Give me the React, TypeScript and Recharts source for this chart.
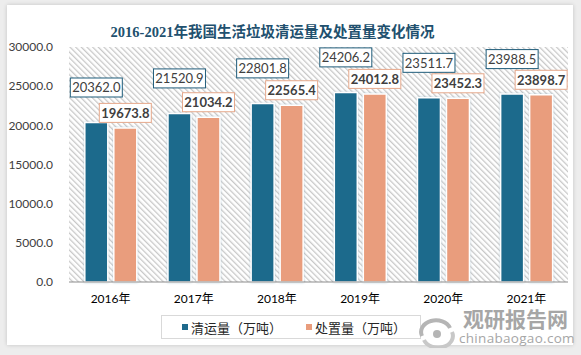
import React from "react";
import { Bar, BarChart, LabelList, XAxis, YAxis } from "recharts";

const years = ["2016年", "2017年", "2018年", "2019年", "2020年", "2021年"];
const collected = [20362.0, 21520.9, 22801.8, 24206.2, 23511.7, 23988.5];
const disposed = [19673.8, 21034.2, 22565.4, 24012.8, 23452.3, 23898.7];
const yTicks = [0, 5000, 10000, 15000, 20000, 25000, 30000];

const DARK = "#1F6A8C";
const SALMON = "#E99D7D";

const data = years.map((year, i) => ({ year, collected: collected[i], disposed: disposed[i] }));

// boxed value label drawn above the bar, like the Excel callouts
function boxLabel(border: string, lift: number, bold: boolean) {
  return (props: any) => {
    const { x, y, width, value } = props;
    const cx = Number(x) + Number(width) / 2;
    const cy = Number(y) - lift;
    const w = 52;
    const h = 19;
    return (
      <g>
        <rect x={cx - w / 2} y={cy - h / 2} width={w} height={h} fill="#fff" stroke={border} strokeWidth={1} />
        <text
          x={cx}
          y={cy}
          textAnchor="middle"
          dominantBaseline="central"
          fontSize={13}
          fontWeight={bold ? 700 : 400}
          fill="#404040"
          fontFamily="Lato, 'Open Sans', sans-serif"
        >
          {Number(value).toFixed(1)}
        </text>
      </g>
    );
  };
}

// diagonal hatch behind the plot area, drawn from the chart's own offset
function Hatch(props: any) {
  const { offset } = props;
  if (!offset) return null;
  const lines = [];
  const { left, top, width, height } = offset;
  for (let d = -height; d < width; d += 4) {
    lines.push(<line key={d} x1={left + d} y1={top} x2={left + d + height} y2={top + height} />);
  }
  return (
    <g>
      <clipPath id="hatchClip">
        <rect x={left} y={top} width={width} height={height} />
      </clipPath>
      <g clipPath="url(#hatchClip)" stroke="#cccccc" strokeWidth={1}>
        {lines}
      </g>
    </g>
  );
}

export default function App() {
  return (
    <div style={{ position: "fixed", left: 0, top: 0, width: 581, height: 355, background: "#ededed", overflow: "hidden" }}>
      <div
        style={{
          position: "absolute",
          left: 7,
          top: 5,
          width: 566,
          height: 340,
          background: "#fff",
          boxShadow: "0 0 4px rgba(0,0,0,0.18)",
        }}
      />
      <svg style={{ position: "absolute", left: 69, top: 47 }} width={499} height={235}>
        <defs>
          <pattern id="hatch" width="4" height="4" patternUnits="userSpaceOnUse" patternTransform="rotate(-45)">
            <rect x="0" y="0" width="1.3" height="4" fill="#c8c8c8" />
          </pattern>
        </defs>
        <rect x="0" y="0" width="499" height="235" fill="url(#hatch)" />
      </svg>
      <div
        style={{
          position: "absolute",
          left: 0,
          top: 20,
          width: 545,
          textAlign: "center",
          fontFamily: "'Liberation Serif', 'Noto Sans CJK SC', serif",
          fontWeight: 700,
          fontSize: 14.5,
          lineHeight: "24px",
          color: "#21506E",
        }}
      >
        2016-2021年我国生活垃圾清运量及处置量变化情况
      </div>
      <div style={{ position: "absolute", left: 0, top: 0 }}>
        <BarChart
          width={581}
          height={355}
          data={data}
          margin={{ top: 47, right: 13, bottom: 43, left: 0 }}
          barCategoryGap="19%"
          barGap={6}
        >
          <defs>
            <filter id="barShadow" x="-30%" y="-10%" width="160%" height="120%">
              <feDropShadow dx="0" dy="0" stdDeviation="1.2" floodColor="#8fb3c7" floodOpacity="0.6" />
            </filter>
          </defs>
          <XAxis
            dataKey="year"
            axisLine={{ stroke: "#8c8c8c" }}
            tickLine={false}
            tickMargin={6}
            tick={{ fontSize: 12, fill: "#000", fontFamily: "Lato, 'Noto Sans CJK SC', sans-serif" }}
          />
          <YAxis
            domain={[0, 30000]}
            ticks={yTicks}
            tickFormatter={(v: number) => v.toFixed(1)}
            axisLine={false}
            tickLine={false}
            tickMargin={10}
            width={69}
            tick={{ fontSize: 12, fill: "#404040", fontFamily: "Lato, sans-serif" }}
          />
          <Bar dataKey="collected" fill={DARK} stroke="#fff" strokeWidth={1.5} filter="url(#barShadow)" isAnimationActive={false}>
            <LabelList dataKey="collected" content={boxLabel("#1F5C7A", 35, false)} />
          </Bar>
          <Bar dataKey="disposed" fill={SALMON} stroke="#fff" strokeWidth={1.5} filter="url(#barShadow)" isAnimationActive={false}>
            <LabelList dataKey="disposed" content={boxLabel("#E6A88B", 15, true)} />
          </Bar>
        </BarChart>
      </div>
      <div
        style={{
          position: "absolute",
          left: 161,
          top: 315,
          width: 260,
          height: 24,
          border: "1px solid #d9d9d9",
          boxSizing: "border-box",
          fontFamily: "'Noto Sans CJK SC', sans-serif",
          fontSize: 13,
          color: "#262626",
          display: "flex",
          alignItems: "center",
        }}
      >
        <span style={{ display: "inline-block", width: 6, height: 6, background: DARK, marginLeft: 20, marginRight: 3 }} />
        <span>清运量（万吨）</span>
        <span style={{ display: "inline-block", width: 6, height: 6, background: SALMON, marginLeft: 24, marginRight: 3 }} />
        <span>处置量（万吨）</span>
      </div>
      <svg style={{ position: "absolute", left: 416, top: 318 }} width={42} height={30}>
        <path d="M6 18 A14 11 0 0 1 34 10" fill="none" stroke="#b5b5b5" strokeWidth={4} />
        <path d="M36 14 A14 11 0 0 1 8 22" fill="none" stroke="#c8c8c8" strokeWidth={4} />
        <circle cx={21} cy={16} r={4} fill="#b5b5b5" />
      </svg>
      <div
        style={{
          position: "absolute",
          left: 463,
          top: 308,
          fontFamily: "'Noto Sans CJK SC', sans-serif",
          fontWeight: 700,
          fontSize: 21,
          color: "#a6a6a6",
          lineHeight: "20px",
        }}
      >
        观研报告网
      </div>
      <div
        style={{
          position: "absolute",
          left: 459,
          top: 331,
          fontFamily: "'Open Sans', sans-serif",
          fontSize: 13.5,
          color: "#a6a6a6",
          lineHeight: "14px",
          letterSpacing: 0.3,
        }}
      >
        chinabaogao.com
      </div>
    </div>
  );
}
